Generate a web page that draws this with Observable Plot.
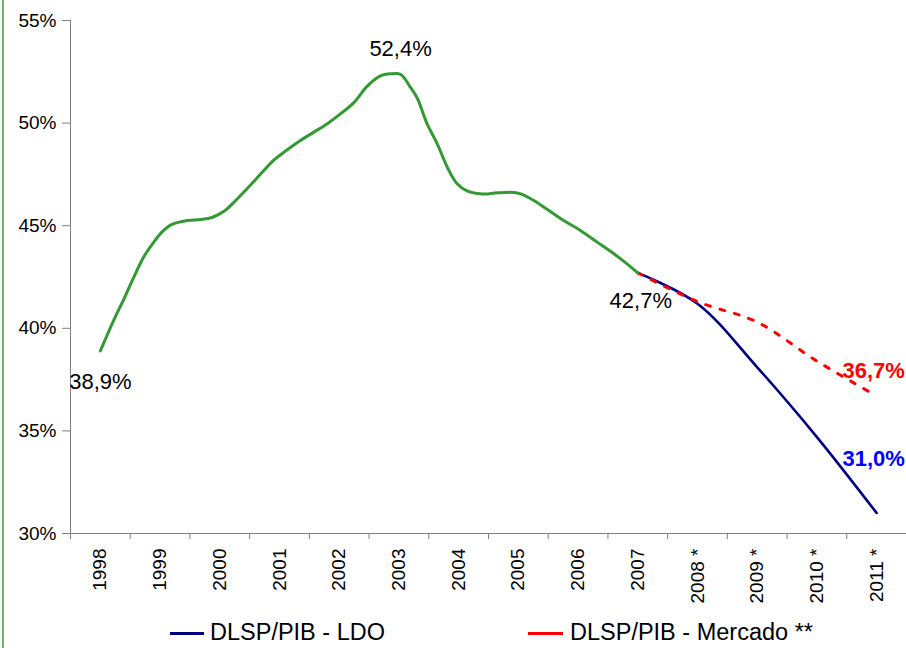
<!DOCTYPE html>
<html>
<head>
<meta charset="utf-8">
<script src="https://cdn.jsdelivr.net/npm/d3@7"></script>
<script src="https://cdn.jsdelivr.net/npm/@observablehq/plot@0.6"></script>
<style>
  html, body { margin: 0; padding: 0; background: #fff; }
  body { width: 906px; height: 648px; overflow: hidden; position: relative; font-family: "Liberation Sans", Arial, sans-serif; }
  #border { position: absolute; left: 2px; top: 0; width: 2px; height: 648px; background: #6db36d; }
  #chart { position: absolute; left: 0; top: 0; }
  #legend { position: absolute; left: 0; top: 612px; width: 906px; height: 36px; font-size: 23.5px; color: #000; }
  .sw { position: absolute; top: 20px; height: 3px; }
  .lt { position: absolute; top: 5px; line-height: 30px; white-space: nowrap; }
</style>
</head>
<body>
<div id="border"></div>
<div id="chart"></div>
<div id="legend">
  <div class="sw" style="left:170px;width:34px;background:#000080"></div>
  <div class="lt" style="left:210px">DLSP/PIB - LDO</div>
  <div class="sw" style="left:528px;width:35px;background:#ff0000"></div>
  <div class="lt" style="left:570px">DLSP/PIB - Mercado **</div>
</div>
<script>
// Categories / tick labels
const years = [1998,1999,2000,2001,2002,2003,2004,2005,2006,2007,2008,2009,2010,2011];
const yearLabels = ["1998","1999","2000","2001","2002","2003","2004","2005","2006","2007","2008 *","2009 *","2010 *","2011 *"];
const yTicks = [30,35,40,45,50,55];

// Historical series (DLSP/PIB, %), time as fractional year position
const histT = [1998.0,1998.225,1998.39,1998.53,1998.73,1998.895,1999.035,1999.2,1999.455,1999.68,1999.87,
  2000.07,2000.29,2000.57,2000.905,2001.13,2001.35,2001.575,2001.8,2002.02,2002.245,2002.47,2002.69,
  2002.86,2003.03,2003.19,2003.31,2003.47,2003.64,2003.81,2003.975,2004.14,2004.395,2004.645,2004.925,2005.04,
  2005.26,2005.48,2005.76,2006.04,2006.32,2006.6,2006.82,2007.0];
const histV = [38.9,40.4,41.4,42.3,43.5,44.2,44.7,45.06,45.25,45.3,45.4,
  45.7,46.3,47.15,48.2,48.7,49.15,49.56,49.97,50.45,51.0,51.8,52.3,
  52.4,52.37,51.75,51.2,49.97,49.0,47.85,47.04,46.7,46.55,46.6,46.62,46.55,
  46.23,45.8,45.25,44.77,44.2,43.63,43.14,42.7];

// Projections
const projT = [2007,2008,2009,2010,2011];
const ldoV = [42.7,41.2,38.1,34.7,31.0];
const mercadoV = [42.7,41.3,40.3,38.4,36.7];

const hist = histT.map((t,i) => ({t, v: histV[i]}));
const ldo = projT.map((t,i) => ({t, v: ldoV[i]}));
const merc = projT.map((t,i) => ({t, v: mercadoV[i]}));
const boundaries = years.map(y => y - 0.5).concat([2011.5]);
const labelOf = new Map(years.map((y,i) => [y, yearLabels[i]]));

const peakIdx = histV.indexOf(d3.max(histV));
const font = "Liberation Sans, Arial, sans-serif";

const chart = Plot.plot({
  width: 906,
  height: 612,
  marginLeft: 70,
  marginRight: 0,
  marginTop: 20,
  marginBottom: 79,
  style: {fontFamily: font, fontSize: "19px", color: "#000", background: "transparent"},
  x: {type: "linear", domain: [1997.5, 2011.5]},
  y: {domain: [30, 55]},
  marks: [
    Plot.ruleX([1997.5], {stroke: "#808080", strokeWidth: 1}),
    Plot.ruleY([30], {stroke: "#808080", strokeWidth: 1}),
    Plot.axisY({ticks: yTicks, tickFormat: d => d + "%", tickSize: 8, tickPadding: 6, stroke: "#808080", fill: "#000", fontSize: 19, label: null}),
    Plot.axisX({ticks: boundaries, tickFormat: () => "", tickSize: 6, stroke: "#808080", label: null}),
    Plot.axisX({ticks: years, tickFormat: d => labelOf.get(d), tickSize: 0, tickPadding: 15, tickRotate: -90, fill: "#000", fontSize: 19, label: null}),
    Plot.line(ldo, {x: "t", y: "v", stroke: "#000080", strokeWidth: 2.6, curve: "catmull-rom"}),
    Plot.line(merc, {x: "t", y: "v", stroke: "#ff0000", strokeWidth: 3, strokeDasharray: "5,10", curve: "catmull-rom"}),
    Plot.line(hist, {x: "t", y: "v", stroke: "#339933", strokeWidth: 3, curve: "catmull-rom"}),
    Plot.text([hist[0]], {x: "t", y: "v", text: d => "38,9%", dy: 31, fontSize: 22, fill: "#000"}),
    Plot.text([hist[peakIdx]], {x: "t", y: "v", text: d => "52,4%", dx: 10, dy: -25, fontSize: 22, fill: "#000"}),
    Plot.text([hist[hist.length-1]], {x: "t", y: "v", text: d => "42,7%", dx: 3, dy: 28, fontSize: 22, fill: "#000"}),
    Plot.text([merc[merc.length-1]], {x: "t", y: "v", text: d => "36,7%", dx: -3, dy: -25, fontSize: 22, fontWeight: "bold", fill: "#ff0000"}),
    Plot.text([ldo[ldo.length-1]], {x: "t", y: "v", text: d => "31,0%", dx: -3, dy: -54, fontSize: 22, fontWeight: "bold", fill: "#0000ff"})
  ]
});
document.getElementById("chart").appendChild(chart);
</script>
</body>
</html>
